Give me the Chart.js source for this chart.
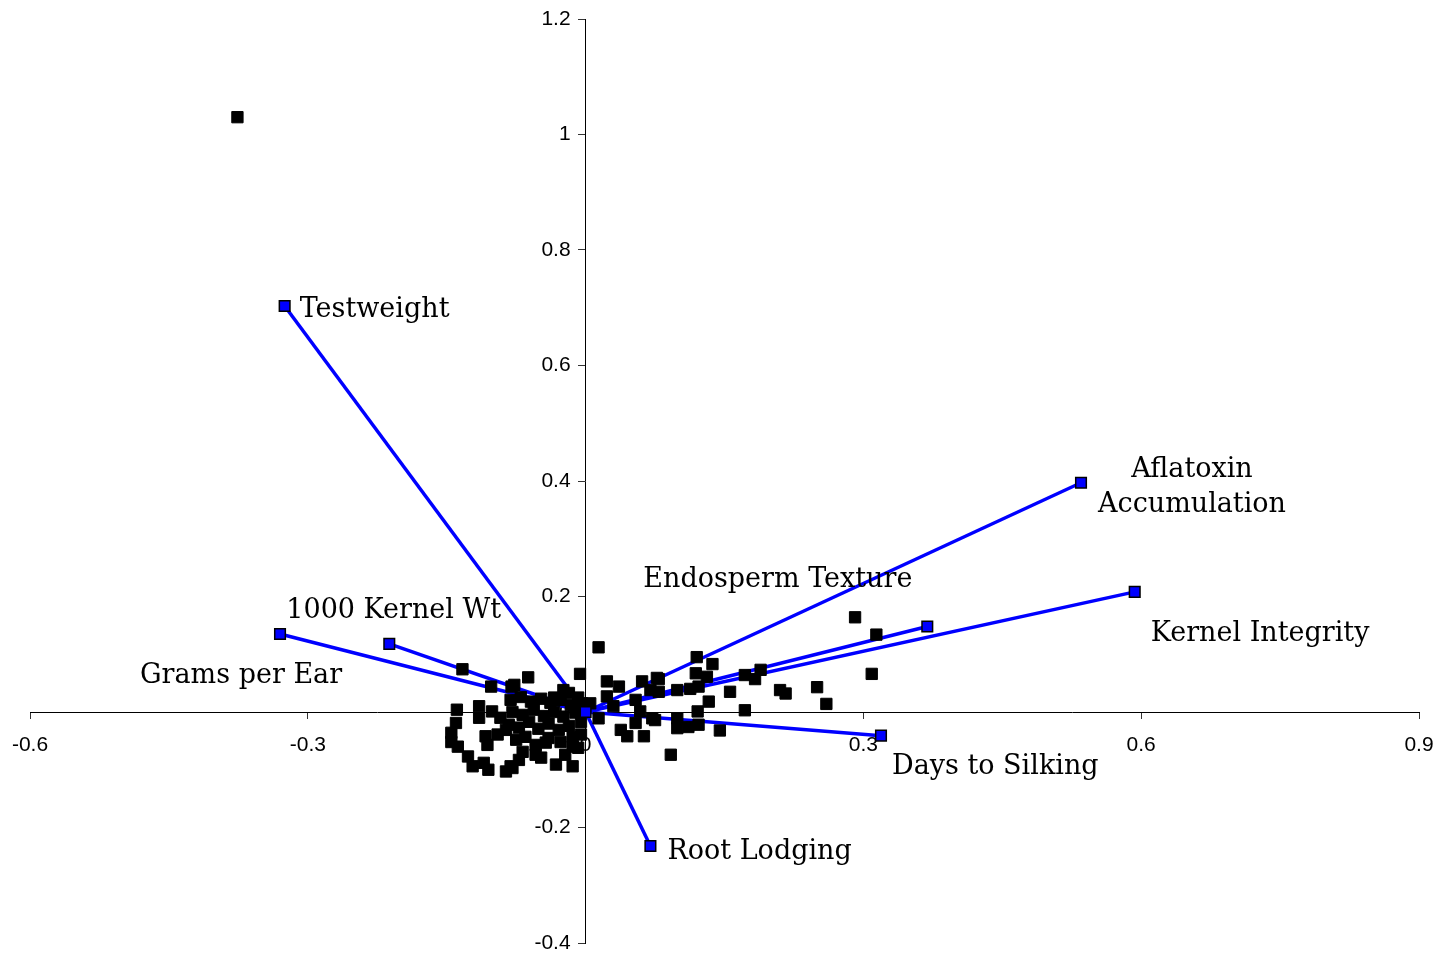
<!DOCTYPE html>
<html>
<head>
<meta charset="utf-8">
<script src="https://cdn.jsdelivr.net/npm/chart.js@4.4.1/dist/chart.umd.min.js"></script>
<style>
  body { margin: 0; background: #fff; }
  canvas { display: block; }
</style>
</head>
<body>
<canvas id="biplot" width="1439" height="958"></canvas>
<script>
// trait vectors (loadings)
var traitNames = ['Testweight', '1000 Kernel Wt', 'Grams per Ear', 'Endosperm Texture',
  'Aflatoxin\nAccumulation', 'Kernel Integrity', 'Days to Silking', 'Root Lodging'];
var traitX = [-0.325, -0.212, -0.330, 0.369, 0.535, 0.593, 0.319, 0.070];
var traitY = [0.703, 0.118, 0.135, 0.148, 0.397, 0.208, -0.041, -0.232];

// genotype scores
var scoreX = [-0.376,
  -0.133, -0.102, -0.080, -0.139, -0.115, -0.115, -0.101, -0.092, -0.140, -0.145, -0.145,
  -0.138, -0.108, -0.106, -0.095, -0.127, -0.122, -0.110, -0.105, -0.086, -0.081, -0.086,
  -0.062, -0.077, -0.006, -0.018, -0.004, -0.072, -0.079, -0.032, -0.014, -0.054, -0.043, -0.014,
  -0.081, -0.070, -0.059, -0.048, -0.038, -0.027, -0.016, -0.008,
  -0.079, -0.068, -0.056, -0.045, -0.034, -0.024, -0.011,
  -0.083, -0.072, -0.061, -0.051, -0.040, -0.029, -0.018, -0.005,
  -0.075, -0.065, -0.054, -0.040, -0.027, -0.014, -0.005,
  -0.068, -0.048, -0.022, -0.008, -0.034, -0.024,
  0.014, 0.023, 0.036, 0.023, 0.030, 0.014, 0.005, 0.061, 0.077, 0.070, 0.054, 0.059, 0.072,
  0.038, 0.045, 0.063, 0.054,
  0.120, 0.137, 0.119, 0.131, 0.079, 0.079, 0.099, 0.113, 0.122, 0.156, 0.172, 0.183, 0.189,
  0.133, 0.121, 0.172, 0.099, 0.099, 0.111, 0.122, 0.145, 0.092, 0.075,
  0.291, 0.314, 0.309, 0.210, 0.216, 0.250, 0.260];
var scoreY = [1.030,
  0.074, 0.044, 0.044, 0.004, 0.010, -0.010, 0.001, -0.010, -0.019, -0.036, -0.052,
  -0.060, -0.042, -0.057, -0.039, -0.077, -0.094, -0.088, -0.100, -0.103, -0.094, -0.031,
  0.060, 0.047, 0.066, 0.033, 0.015, -0.083, -0.097, -0.091, -0.094, -0.074, -0.053, -0.060,
  0.021, 0.026, 0.018, 0.023, 0.016, 0.021, 0.012, 0.025,
  0.000, -0.005, 0.004, -0.007, 0.000, -0.008, -0.001,
  -0.022, -0.027, -0.017, -0.029, -0.020, -0.031, -0.024, -0.017,
  -0.048, -0.043, -0.057, -0.045, -0.052, -0.043, -0.039,
  -0.069, -0.079, -0.074, -0.062, 0.025, 0.038,
  0.112, 0.053, 0.044, 0.027, 0.010, -0.011, 0.015, 0.053, 0.059, 0.038, 0.021, 0.001, -0.011,
  -0.031, -0.042, -0.042, -0.019,
  0.095, 0.083, 0.067, 0.061, 0.057, 0.035, 0.038, 0.040, 0.044, 0.035, 0.064, 0.057, 0.073,
  0.018, 0.001, 0.003, -0.011, -0.028, -0.026, -0.022, -0.032, -0.074, -0.014,
  0.164, 0.134, 0.066, 0.038, 0.032, 0.043, 0.014];

var xTicks = [-0.6, -0.3, 0, 0.3, 0.6, 0.9];
var yTicks = [-0.4, -0.2, 0, 0.2, 0.4, 0.6, 0.8, 1, 1.2];

// where each trait name sits, in pixels from the vector tip (baseline of first line)
var labelPlace = [
  { dx: 15, dy: 11, align: 'left' },
  { dx: -103, dy: -26, align: 'left' },
  { dx: -140, dy: 49, align: 'left' },
  { dx: -284, dy: -40, align: 'left' },
  { dx: 111, dy: -6, align: 'center' },
  { dx: 16, dy: 49, align: 'left' },
  { dx: 11, dy: 38, align: 'left' },
  { dx: 17, dy: 13, align: 'left' }
];

var BLUE = '#0000ff';

var datasets = [];

// black genotype squares
datasets.push({
  label: 'scores',
  data: scoreX.map(function (x, i) { return { x: x, y: scoreY[i] }; }),
  pointStyle: 'rect',
  pointRadius: 8,
  pointBackgroundColor: '#000',
  pointBorderColor: '#000',
  pointBorderWidth: 1,
  showLine: false,
  order: 2
});

// one line per trait, from the origin out to its loading
traitNames.forEach(function (name, i) {
  datasets.push({
    label: name,
    data: [{ x: 0, y: 0 }, { x: traitX[i], y: traitY[i] }],
    showLine: true,
    borderColor: BLUE,
    borderWidth: 3.5,
    pointRadius: 0,
    order: 3
  });
});

// blue tip markers, drawn over everything
datasets.push({
  label: 'tips',
  data: [{ x: 0, y: 0 }].concat(traitX.map(function (x, i) { return { x: x, y: traitY[i] }; })),
  pointStyle: 'rect',
  pointRadius: 7.5,
  pointBackgroundColor: BLUE,
  pointBorderColor: '#000',
  pointBorderWidth: 1.5,
  showLine: false,
  order: 1
});

// tick numbers, drawn beside the crossing axes before the marks so the cluster covers them
var axisNumbers = {
  id: 'axisNumbers',
  beforeDatasetsDraw: function (chart) {
    var ctx = chart.ctx;
    var xs = chart.scales.x, ys = chart.scales.y;
    var x0 = xs.getPixelForValue(0), y0 = ys.getPixelForValue(0);
    ctx.save();
    ctx.fillStyle = '#000';
    ctx.font = '21px "Liberation Sans", Arial';
    ctx.textBaseline = 'middle';
    ctx.textAlign = 'center';
    xTicks.forEach(function (v) {
      ctx.fillText(String(v), xs.getPixelForValue(v), y0 + 33);
    });
    ctx.textAlign = 'right';
    yTicks.forEach(function (v) {
      ctx.fillText(String(v), x0 - 15, ys.getPixelForValue(v));
    });
    ctx.restore();
  }
};

var traitLabels = {
  id: 'traitLabels',
  afterDatasetsDraw: function (chart) {
    var ctx = chart.ctx;
    var xs = chart.scales.x, ys = chart.scales.y;
    ctx.save();
    ctx.fillStyle = '#000';
    ctx.font = '27px "DejaVu Serif"';
    ctx.textBaseline = 'alphabetic';
    traitNames.forEach(function (name, i) {
      var p = labelPlace[i];
      var px = xs.getPixelForValue(traitX[i]) + p.dx;
      var py = ys.getPixelForValue(traitY[i]) + p.dy;
      ctx.textAlign = p.align;
      name.split('\n').forEach(function (line, k) {
        ctx.fillText(line, px, py + k * 35);
      });
    });
    ctx.restore();
  }
};

new Chart(document.getElementById('biplot'), {
  type: 'scatter',
  data: { datasets: datasets },
  options: {
    responsive: false,
    animation: false,
    layout: { padding: { left: 30, right: 20, top: 19, bottom: 15 } },
    plugins: { legend: { display: false }, tooltip: { enabled: false } },
    scales: {
      x: {
        type: 'linear',
        position: { y: 0 },
        min: -0.6,
        max: 0.9,
        afterBuildTicks: function (s) { s.ticks = xTicks.map(function (v) { return { value: v }; }); },
        grid: { drawOnChartArea: false, drawTicks: true, tickLength: 6, color: '#333', tickWidth: 1 },
        border: { color: '#000', width: 1 },
        ticks: { display: false }
      },
      y: {
        type: 'linear',
        position: { x: 0 },
        min: -0.4,
        max: 1.2,
        afterBuildTicks: function (s) { s.ticks = yTicks.map(function (v) { return { value: v }; }); },
        grid: { drawOnChartArea: false, drawTicks: true, tickLength: 7, color: '#333', tickWidth: 1 },
        border: { color: '#000', width: 1 },
        ticks: { display: false }
      }
    }
  },
  plugins: [axisNumbers, traitLabels]
});
</script>
</body>
</html>
